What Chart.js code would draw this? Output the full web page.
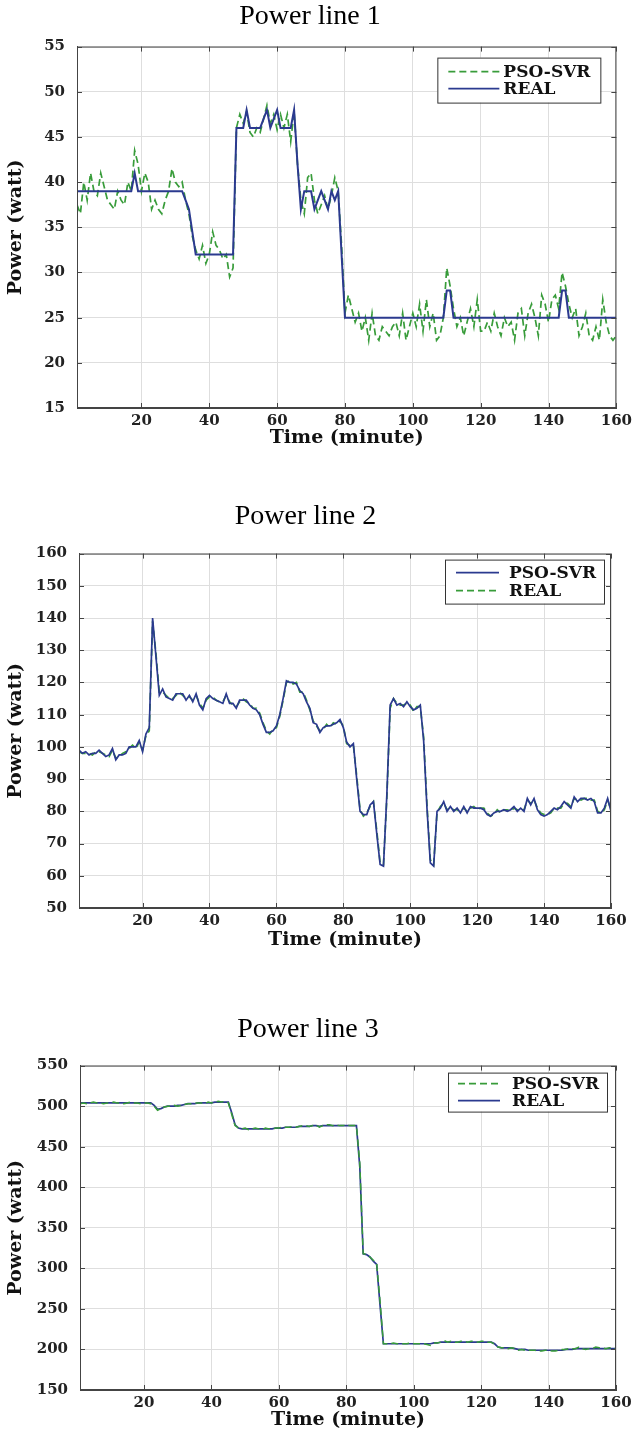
<!DOCTYPE html>
<html>
<head>
<meta charset="utf-8">
<script src="https://cdn.jsdelivr.net/npm/chart.js@4.4.1/dist/chart.umd.min.js"></script>
<style>
  html, body { margin: 0; padding: 0; background: #fff; }
  body { width: 636px; height: 1431px; position: relative; overflow: hidden; }
  .wrap { position: absolute; left: 0; width: 636px; }
</style>
</head>
<body>
<div class="wrap" style="top:0;height:460px"><canvas id="line1"></canvas></div>
<div class="wrap" style="top:480px;height:480px"><canvas id="line2"></canvas></div>
<div class="wrap" style="top:960px;height:471px"><canvas id="line3"></canvas></div>
<script>
// time axis, one sample per minute
const minutes = Array.from({ length: 160 }, (_, i) => i + 1);
const xTicks = [20, 40, 60, 80, 100, 120, 140, 160];

// Power line 1
const p1Pso = [
  37.5, 36.5, 40, 38, 41, 39, 38.5, 41, 39.5, 38,
  37.5, 37, 39, 38, 37.5, 40, 39, 43.5, 42, 39,
  41, 40, 37, 38, 37, 36.5, 38, 39, 41.5, 40,
  39.5, 40, 38, 36.5, 34, 32.5, 31.5, 33, 31, 32,
  34.5, 33, 32.5, 31.5, 32, 29.5, 30.5, 46, 47.5, 46.5,
  47.8, 45.5, 45, 46, 45.5, 47, 48.5, 46.5, 47.5, 45.8,
  47.5, 46, 47.5, 44.5, 47.8, 42, 38, 36.5, 40.5, 41,
  38, 36.5, 37.5, 38.5, 37, 38.5, 40.5, 39, 33, 25.5,
  27.5, 26, 24.5, 25.5, 23.5, 25, 22.5, 25.5, 23, 22.5,
  24, 23.5, 23, 24, 24.5, 23, 25.5, 22.5, 24, 25.5,
  24, 26.5, 23.5, 27, 24, 25.5, 22.5, 23, 25, 30.5,
  28.5, 26, 24, 25, 23, 24.5, 26, 24, 27, 23.5,
  23.5, 24.5, 23.5, 25.5, 24, 23, 25, 24, 24.5, 22.5,
  25.5, 26, 23, 25.5, 26.5, 25, 23, 27.5, 26.5, 24.5,
  27, 27.5, 26, 30, 28.5, 26.5, 25, 26, 23, 24,
  25.5, 23, 22.5, 24, 22.5, 27, 24.5, 23, 22.5, 23
];
const p1Real = [
  39, 39, 39, 39, 39, 39, 39, 39, 39, 39,
  39, 39, 39, 39, 39, 39, 39, 41, 39, 39,
  39, 39, 39, 39, 39, 39, 39, 39, 39, 39,
  39, 39, 38, 37, 34.5, 32, 32, 32, 32, 32,
  32, 32, 32, 32, 32, 32, 32, 46, 46, 46,
  48, 46, 46, 46, 46, 47, 48, 46, 47, 48,
  46, 46, 46, 46, 48, 42, 37, 39, 39, 39,
  37, 38, 39, 38, 37, 39, 38, 39, 32, 25,
  25, 25, 25, 25, 25, 25, 25, 25, 25, 25,
  25, 25, 25, 25, 25, 25, 25, 25, 25, 25,
  25, 25, 25, 25, 25, 25, 25, 25, 25, 28,
  28, 25, 25, 25, 25, 25, 25, 25, 25, 25,
  25, 25, 25, 25, 25, 25, 25, 25, 25, 25,
  25, 25, 25, 25, 25, 25, 25, 25, 25, 25,
  25, 25, 25, 28, 28, 25, 25, 25, 25, 25,
  25, 25, 25, 25, 25, 25, 25, 25, 25, 25
];

// Power line 2
const p2Pso = [
  99, 98, 98.5, 97.5, 98, 98, 99, 98, 97, 97.5,
  99.5, 96, 97.5, 97.5, 98, 100, 100, 100, 102, 98.5,
  104, 106, 140, 128, 116, 118, 115.5, 115, 114.5, 116.5,
  116.5, 116.5, 114.5, 116, 114, 116.5, 113, 111.5, 115, 116,
  115, 114.5, 114, 113.5, 116.5, 113.5, 113.5, 112, 114.5, 114.5,
  114.5, 113, 112, 111.5, 110, 107, 104.5, 104.5, 105, 106.5,
  110, 115, 120.5, 120, 120, 119.5, 117.5, 116.5, 114, 112,
  107.5, 107, 104.5, 106, 106.5, 106.5, 107, 107.5, 108.5, 106,
  101.5, 100, 101, 90, 80, 79, 79, 82, 83, 73,
  63.5, 63, 85, 113, 115, 113, 113.5, 112.5, 114, 112.5,
  111.5, 112, 113, 102, 81, 64, 63, 80, 81, 83,
  80, 81.5, 80, 81, 79.5, 81.5, 79.5, 81.5, 81, 81,
  81, 80.5, 79, 78.5, 79.5, 80, 80, 80.5, 80, 80.5,
  81.5, 80, 81, 80, 84, 82, 84, 80.5, 79, 78.5,
  79, 80, 81, 80.5, 81.5, 83, 82, 81, 84.5, 83,
  84, 84, 83.5, 84, 83, 79.5, 79.5, 81, 84, 80
];
const p2Real = [
  98.5, 98, 98, 98, 97.5, 98.5, 98.5, 98, 97.5, 97,
  99, 96.5, 97, 98, 98.5, 99.5, 100.5, 99.5, 101.5, 99,
  103.5, 105, 139, 129, 117, 117, 116, 115, 115, 116,
  117, 116, 115, 115.5, 114.5, 116, 113.5, 112, 114.5, 115.5,
  115.5, 114.5, 114, 114, 116, 114, 113, 112.5, 114, 115,
  114, 113.5, 112, 112, 110.5, 107.5, 105, 104, 105.5, 106,
  109.5, 114.5, 120, 120.5, 119.5, 120, 117, 117, 114.5, 111.5,
  108, 106.5, 105, 105.5, 107, 106, 107.5, 107, 108, 106.5,
  101, 100.5, 100.5, 91, 80.5, 78.5, 79.5, 81.5, 83, 74,
  64, 63.5, 84, 112, 115, 113.5, 113, 113, 113.5, 113,
  111, 112.5, 112.5, 103, 82, 65, 63.5, 79.5, 81.5, 82.5,
  80.5, 81, 80.5, 80.5, 80, 81, 80, 81, 81.5, 80.5,
  81, 81, 79.5, 78.5, 79, 80.5, 79.5, 80.5, 80.5, 80,
  81, 80.5, 80.5, 80.5, 83.5, 82.5, 83.5, 81, 79.5, 79,
  79, 79.5, 81, 81, 81, 82.5, 82.5, 81.5, 84, 83.5,
  83.5, 84, 84, 83.5, 83.5, 80, 79.5, 80.5, 83.5, 80.5
];

// Power line 3
const p3Pso = [
  503, 504, 503, 504, 505, 504, 504, 503, 504, 504,
  505, 504, 504, 503, 504, 505, 504, 504, 503, 504,
  504, 503, 500, 495, 497, 499, 500, 500, 501, 500,
  501, 502, 503, 503, 504, 504, 504, 503, 505, 504,
  505, 506, 505, 506, 504, 490, 476, 473, 472, 473,
  471, 472, 473, 472, 471, 473, 472, 472, 473, 473,
  474, 474, 474, 475, 474, 475, 476, 476, 475, 476,
  477, 474, 476, 477, 477, 476, 477, 476, 476, 477,
  476, 476, 476, 430, 318, 317, 314, 310, 306, 260,
  207, 207, 207, 208, 207, 207, 207, 207, 208, 207,
  207, 207, 207, 206, 205, 208, 208, 209, 211, 209,
  210, 209, 209, 210, 210, 209, 210, 210, 209, 210,
  210, 209, 209, 206, 203, 202, 202, 201, 202, 201,
  199, 200, 199, 199, 199, 199, 198, 198, 199, 199,
  198, 198, 199, 200, 200, 201, 201, 201, 203, 201,
  200, 201, 201, 203, 202, 202, 201, 202, 202, 201
];
const p3Real = [
  504, 504, 504, 504, 504, 504, 504, 504, 504, 504,
  504, 504, 504, 504, 504, 504, 504, 504, 504, 504,
  504, 504, 501, 496, 497, 499, 500, 500, 500, 501,
  501, 502, 503, 503, 503, 504, 504, 504, 504, 504,
  505, 505, 505, 505, 505, 492, 477, 473, 472, 472,
  472, 472, 472, 472, 472, 472, 472, 472, 473, 473,
  473, 474, 474, 474, 474, 475, 475, 475, 475, 476,
  476, 475, 476, 476, 476, 476, 476, 476, 476, 476,
  476, 476, 476, 425, 318, 317, 314, 309, 305, 255,
  207, 207, 207, 207, 207, 207, 207, 207, 207, 207,
  207, 207, 207, 207, 207, 208, 208, 209, 209, 209,
  209, 209, 209, 209, 209, 209, 209, 209, 209, 209,
  209, 209, 209, 207, 203, 202, 202, 202, 202, 201,
  200, 200, 200, 199, 199, 199, 199, 199, 199, 199,
  199, 199, 199, 199, 200, 200, 200, 201, 201, 201,
  201, 201, 201, 201, 201, 201, 201, 201, 201, 201
];

const GREEN = '#389c3a';
const BLUE = '#2b3a8f';
const tickFont = { family: 'DejaVu Serif', size: 15, weight: 'bold' };
const titleFont = { family: 'DejaVu Serif', size: 19, weight: 'bold' };

// matlab style box, inward ticks and the legend box
const matlabBox = {
  id: 'matlabBox',
  afterDatasetsDraw(chart, args, opts) {
    const { ctx, chartArea: a, scales } = chart;
    ctx.save();
    ctx.strokeStyle = '#444';
    ctx.lineWidth = 1;
    ctx.strokeRect(a.left + 0.5, a.top + 0.5, a.right - a.left - 1, a.bottom - a.top - 1);
    ctx.beginPath();
    scales.y.ticks.forEach(t => {
      const y = Math.round(scales.y.getPixelForValue(t.value)) + 0.5;
      ctx.moveTo(a.left, y); ctx.lineTo(a.left + 5, y);
      ctx.moveTo(a.right, y); ctx.lineTo(a.right - 5, y);
    });
    scales.x.ticks.forEach(t => {
      const x = Math.round(scales.x.getPixelForValue(t.value)) + 0.5;
      ctx.moveTo(x, a.bottom); ctx.lineTo(x, a.bottom - 5);
      ctx.moveTo(x, a.top); ctx.lineTo(x, a.top + 5);
    });
    ctx.stroke();

    const L = opts.legend;
    const bx = a.right - L.right - L.w;
    const by = a.top + L.top;
    ctx.fillStyle = '#fff';
    ctx.fillRect(bx, by, L.w, L.h);
    ctx.strokeStyle = '#333';
    ctx.strokeRect(bx + 0.5, by + 0.5, L.w, L.h);
    ctx.font = 'bold 17px "DejaVu Serif"';
    ctx.textBaseline = 'middle';
    chart.data.datasets.filter(d => d.legendRow !== undefined).forEach(d => {
      const y = by + L.rows[d.legendRow];
      ctx.beginPath();
      ctx.strokeStyle = d.borderColor;
      ctx.lineWidth = 1.6;
      ctx.setLineDash(d.borderDash || []);
      ctx.moveTo(bx + L.x0, y); ctx.lineTo(bx + L.x1, y);
      ctx.stroke();
      ctx.setLineDash([]);
      ctx.fillStyle = '#111';
      ctx.fillText(d.label, bx + L.tx, y + 1);
    });
    ctx.restore();
  }
};

function makeChart(id, o) {
  return new Chart(id, {
    type: 'line',
    data: { labels: minutes, datasets: o.datasets },
    options: {
      responsive: true,
      maintainAspectRatio: false,
      animation: false,
      layout: { padding: { left: 0, right: o.padRight, top: 0, bottom: 0 } },
      elements: { point: { radius: 0 }, line: { tension: 0 } },
      plugins: {
        legend: { display: false },
        tooltip: { enabled: false },
        title: {
          display: true,
          text: o.title,
          color: '#000',
          font: { family: 'Liberation Serif', size: 28, weight: 'normal' },
          padding: { top: o.titleTop, bottom: o.titleBottom }
        },
        matlabBox: { legend: o.legend }
      },
      scales: {
        x: {
          type: 'linear',
          min: 1,
          max: 160,
          afterBuildTicks: s => { s.ticks = xTicks.map(v => ({ value: v })); },
          afterFit: s => { s.height = o.xAxisH; },
          grid: { color: '#dedede', drawTicks: false },
          border: { color: '#444' },
          ticks: { font: tickFont, color: '#222', padding: 4, maxRotation: 0 },
          title: { display: true, text: 'Time (minute)', font: titleFont, color: '#111', padding: { top: 0, bottom: o.xTitleBottom } }
        },
        y: {
          min: o.yMin,
          max: o.yMax,
          ticks: { stepSize: o.yStep, font: tickFont, color: '#222', padding: 12 },
          afterFit: s => { s.width = o.plotLeft; },
          grid: { color: '#dedede', drawTicks: false },
          border: { color: '#444' },
          title: { display: true, text: 'Power (watt)', font: titleFont, color: '#111', padding: { top: 5, bottom: 0 } }
        }
      }
    },
    plugins: [matlabBox]
  });
}

const dashed = [7, 4];

makeChart('line1', {
  title: 'Power line 1', titleTop: 0, titleBottom: 13,
  yMin: 15, yMax: 55, yStep: 5,
  plotLeft: 77, padRight: 16, xAxisH: 52, xTitleBottom: 11,
  legend: { right: 16, top: 11, w: 163, h: 45, rows: [14, 31], x0: 11, x1: 62, tx: 66 },
  datasets: [
    { label: 'REAL', data: p1Real, borderColor: BLUE, borderWidth: 2, order: 0, legendRow: 1 },
    { label: 'PSO-SVR', data: p1Pso, borderColor: GREEN, borderWidth: 1.7, borderDash: dashed, order: 1, legendRow: 0 }
  ]
});

makeChart('line2', {
  title: 'Power line 2', titleTop: 20, titleBottom: 20,
  yMin: 50, yMax: 160, yStep: 10,
  plotLeft: 79, padRight: 25, xAxisH: 52, xTitleBottom: 9,
  legend: { right: 7, top: 6, w: 159, h: 44, rows: [13, 31], x0: 11, x1: 54, tx: 64 },
  datasets: [
    { label: 'PSO-SVR', data: p2Pso, borderColor: BLUE, borderWidth: 1.7, order: 0, legendRow: 0 },
    { label: 'REAL', data: p2Real, borderColor: GREEN, borderWidth: 1.7, borderDash: dashed, order: 1, legendRow: 1 }
  ]
});

makeChart('line3', {
  title: 'Power line 3', titleTop: 53, titleBottom: 19,
  yMin: 150, yMax: 550, yStep: 50,
  plotLeft: 80, padRight: 20, xAxisH: 41, xTitleBottom: 0,
  legend: { right: 9, top: 7, w: 159, h: 39, rows: [11, 28], x0: 10, x1: 52, tx: 64 },
  datasets: [
    { label: 'REAL', data: p3Real, borderColor: BLUE, borderWidth: 1.7, order: 1, legendRow: 1 },
    { label: 'PSO-SVR', data: p3Pso, borderColor: GREEN, borderWidth: 1.5, borderDash: dashed, order: 0, legendRow: 0 }
  ]
});
</script>
</body>
</html>
